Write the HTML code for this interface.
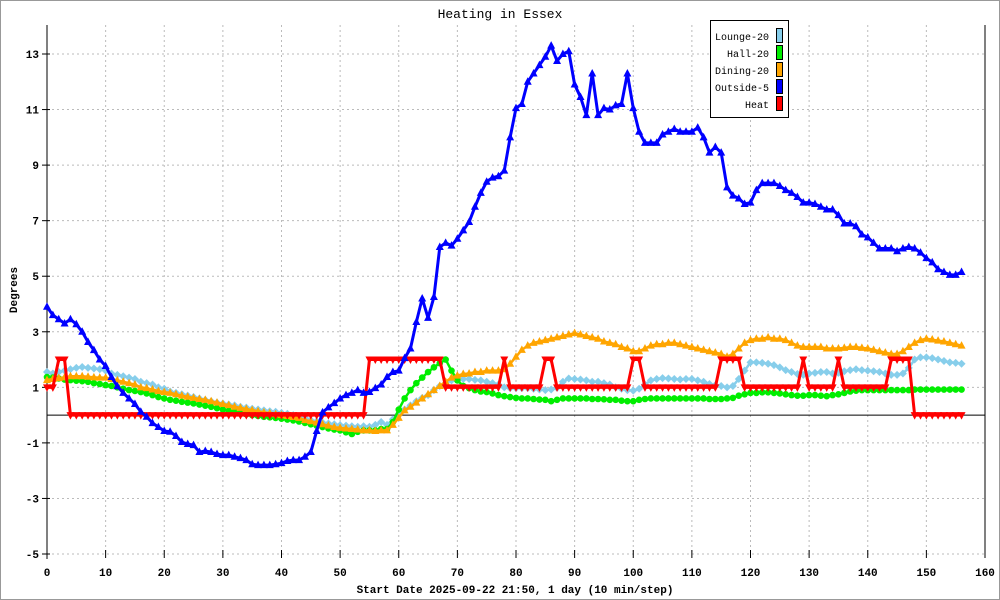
<!DOCTYPE html>
<html><head><meta charset="utf-8"><style>
body{margin:0;background:#fff}
svg{display:block;font-family:"Liberation Mono",monospace}
</style></head><body>
<svg id="chart" width="1000" height="600">
<rect x="0.5" y="0.5" width="999" height="599" fill="#fff" stroke="#999"/>
<text x="500" y="18" text-anchor="middle" font-size="13">Heating in Essex</text>
<g id="grid"></g>
<g id="axes"></g>
<g id="series"></g>
<text x="515" y="593" text-anchor="middle" font-size="11" font-weight="bold">Start Date 2025-09-22 21:50, 1 day (10 min/step)</text>
<text transform="translate(17,290) rotate(-90)" text-anchor="middle" font-size="11" font-weight="bold">Degrees</text>
<g id="legend"></g>
</svg>
<script>
const xTicks=[0,10,20,30,40,50,60,70,80,90,100,110,120,130,140,150,160];
const yTicks=[-5,-3,-1,1,3,5,7,9,11,13];
const seriesNames=["Lounge-20","Hall-20","Dining-20","Outside-5","Heat"];
const lounge=[1.55,1.5,1.55,1.6,1.65,1.7,1.73,1.7,1.68,1.65,1.6,1.5,1.45,1.4,1.35,1.3,1.2,1.15,1.1,1.0,0.95,0.85,0.8,0.75,0.7,0.65,0.6,0.55,0.5,0.45,0.42,0.38,0.35,0.3,0.27,0.23,0.2,0.17,0.14,0.12,0.08,0.05,0.0,-0.05,-0.1,-0.18,-0.22,-0.27,-0.3,-0.33,-0.36,-0.38,-0.4,-0.42,-0.4,-0.42,-0.35,-0.25,-0.35,-0.15,0.05,0.2,0.35,0.5,0.62,0.72,0.9,1.05,1.15,1.25,1.32,1.3,1.3,1.27,1.25,1.2,1.15,1.1,1.0,0.97,0.97,0.97,0.97,0.95,0.92,0.9,0.92,0.98,1.2,1.32,1.3,1.28,1.25,1.2,1.2,1.15,1.1,1.0,0.95,0.9,0.88,0.95,1.1,1.25,1.3,1.33,1.32,1.3,1.28,1.3,1.3,1.25,1.2,1.12,1.08,1.05,1.0,1.05,1.3,1.6,1.9,1.9,1.88,1.85,1.8,1.72,1.62,1.55,1.48,1.45,1.5,1.52,1.55,1.55,1.5,1.52,1.58,1.62,1.65,1.62,1.6,1.58,1.55,1.5,1.45,1.45,1.5,1.7,2.0,2.08,2.08,2.05,2.0,1.95,1.9,1.88,1.85];
const hall=[1.37,1.35,1.32,1.28,1.26,1.24,1.22,1.2,1.15,1.12,1.08,1.05,1.0,0.95,0.9,0.87,0.83,0.78,0.72,0.65,0.6,0.55,0.52,0.48,0.45,0.42,0.38,0.34,0.3,0.25,0.2,0.16,0.12,0.07,0.03,0.0,-0.03,-0.06,-0.08,-0.1,-0.13,-0.16,-0.19,-0.23,-0.28,-0.33,-0.38,-0.43,-0.48,-0.52,-0.55,-0.62,-0.68,-0.6,-0.55,-0.55,-0.55,-0.5,-0.5,-0.25,0.2,0.6,0.9,1.15,1.35,1.55,1.72,1.87,2.0,1.6,1.25,1.05,0.97,0.9,0.85,0.83,0.78,0.72,0.68,0.65,0.62,0.6,0.6,0.58,0.56,0.55,0.5,0.55,0.6,0.6,0.6,0.6,0.6,0.58,0.58,0.57,0.55,0.55,0.52,0.5,0.5,0.55,0.58,0.6,0.6,0.6,0.6,0.6,0.6,0.6,0.6,0.6,0.6,0.58,0.58,0.58,0.6,0.62,0.7,0.75,0.8,0.8,0.82,0.82,0.8,0.78,0.75,0.72,0.7,0.7,0.72,0.72,0.7,0.68,0.72,0.75,0.8,0.85,0.88,0.9,0.9,0.9,0.9,0.9,0.9,0.9,0.9,0.9,0.92,0.92,0.92,0.92,0.92,0.92,0.92,0.92,0.92];
const dining=[1.26,1.3,1.33,1.36,1.4,1.4,1.4,1.38,1.36,1.35,1.35,1.3,1.25,1.2,1.15,1.1,1.0,0.97,0.92,0.87,0.83,0.8,0.75,0.7,0.66,0.62,0.58,0.55,0.5,0.45,0.4,0.36,0.3,0.26,0.22,0.18,0.14,0.1,0.07,0.03,0.0,-0.03,-0.07,-0.1,-0.18,-0.22,-0.27,-0.33,-0.38,-0.43,-0.46,-0.48,-0.5,-0.52,-0.55,-0.55,-0.57,-0.55,-0.55,-0.35,-0.1,0.17,0.3,0.45,0.6,0.75,0.9,1.05,1.2,1.35,1.42,1.48,1.5,1.55,1.55,1.6,1.6,1.6,1.65,1.85,2.1,2.35,2.5,2.6,2.65,2.7,2.75,2.8,2.85,2.9,2.95,2.9,2.85,2.8,2.75,2.65,2.6,2.55,2.45,2.4,2.3,2.3,2.4,2.5,2.55,2.55,2.6,2.6,2.55,2.5,2.45,2.4,2.35,2.3,2.25,2.2,2.1,2.2,2.4,2.6,2.7,2.75,2.75,2.8,2.75,2.75,2.7,2.6,2.5,2.45,2.45,2.45,2.45,2.4,2.4,2.4,2.42,2.45,2.45,2.42,2.4,2.35,2.3,2.25,2.2,2.2,2.3,2.45,2.6,2.7,2.75,2.72,2.68,2.65,2.6,2.55,2.5];
const outside=[3.9,3.6,3.45,3.3,3.45,3.27,3.0,2.63,2.34,2.0,1.77,1.37,1.04,0.8,0.6,0.4,0.12,-0.06,-0.29,-0.43,-0.57,-0.6,-0.75,-0.97,-1.04,-1.08,-1.33,-1.29,-1.33,-1.4,-1.44,-1.44,-1.5,-1.55,-1.62,-1.77,-1.8,-1.8,-1.8,-1.77,-1.73,-1.65,-1.62,-1.62,-1.5,-1.33,-0.57,0.1,0.28,0.43,0.6,0.72,0.8,0.9,0.8,0.83,0.97,1.1,1.37,1.55,1.6,2.05,2.4,3.35,4.2,3.5,4.25,6.05,6.2,6.1,6.35,6.65,6.95,7.5,8.0,8.4,8.55,8.6,8.8,10.0,11.05,11.2,12.0,12.3,12.6,12.9,13.3,12.75,13.0,13.1,11.9,11.45,10.8,12.3,10.8,11.05,11.0,11.15,11.2,12.3,11.05,10.2,9.8,9.8,9.8,10.1,10.2,10.3,10.2,10.2,10.2,10.35,10.0,9.45,9.65,9.45,8.2,7.9,7.8,7.6,7.65,8.1,8.35,8.35,8.35,8.25,8.1,8.0,7.85,7.65,7.65,7.6,7.5,7.4,7.4,7.2,6.9,6.9,6.8,6.5,6.4,6.2,6.0,6.0,6.0,5.9,6.0,6.05,6.0,5.85,5.65,5.5,5.25,5.15,5.05,5.05,5.15];
const heat=[1,1,2,2,0,0,0,0,0,0,0,0,0,0,0,0,0,0,0,0,0,0,0,0,0,0,0,0,0,0,0,0,0,0,0,0,0,0,0,0,0,0,0,0,0,0,0,0,0,0,0,0,0,0,0,2,2,2,2,2,2,2,2,2,2,2,2,2,1,1,1,1,1,1,1,1,1,1,2,1,1,1,1,1,1,2,2,1,1,1,1,1,1,1,1,1,1,1,1,1,2,2,1,1,1,1,1,1,1,1,1,1,1,1,1,2,2,2,2,1,1,1,1,1,1,1,1,1,1,2,1,1,1,1,1,2,1,1,1,1,1,1,1,1,2,2,2,2,0,0,0,0,0,0,0,0,0];

const NS="http://www.w3.org/2000/svg";
const X0=47,X1=985,Y0=554,Y1=54;
const xs=v=>X0+(v-0)*(X1-X0)/160;
const ys=v=>Y0-(v+5)*(Y0-Y1)/18;
function el(tag,attrs,parent){const e=document.createElementNS(NS,tag);for(const k in attrs)e.setAttribute(k,attrs[k]);parent.appendChild(e);return e;}
const grid=document.getElementById('grid'),axes=document.getElementById('axes'),ser=document.getElementById('series'),leg=document.getElementById('legend');
xTicks.forEach(t=>{
  const x=xs(t);
  if(t>0&&t<160){const g=el('line',{x1:x,x2:x,y1:25,y2:Y0,stroke:'#bbb','stroke-dasharray':'2,3'},grid);
  
  }
  const tk=el('line',{x1:x,x2:x,y1:Y0-4,y2:Y0+4,stroke:'#000'},axes);
  
  
  const lb=el('text',{x:x,y:Y0+22,'text-anchor':'middle','font-size':11,'font-weight':'bold'},axes);
  lb.textContent=t;
  
  
});
yTicks.forEach(t=>{
  const y=ys(t);
  const g=el('line',{x1:X0,x2:X1,y1:y,y2:y,stroke:'#bbb','stroke-dasharray':'2,3'},grid);
  
  
  const tk=el('line',{x1:X0-5,x2:X0+3,y1:y,y2:y,stroke:'#000'},axes);
  
  
  const lb=el('text',{x:X0-8,y:y+4,'text-anchor':'end','font-size':11,'font-weight':'bold'},axes);
  lb.textContent=t;
  
  
});
el('line',{x1:X0,x2:X0,y1:25,y2:Y0+5,stroke:'#000'},axes);
el('line',{x1:X1,x2:X1,y1:25,y2:Y0,stroke:'#000'},axes);
const zl=el('line',{x1:X0,x2:X1,y1:ys(0),y2:ys(0),stroke:'#000'},axes);



function marker(kind,x,y,c,g){
  let m;
  if(kind==='circle')m=el('circle',{cx:x,cy:y,r:3.3,fill:c},g);
  else if(kind==='up')m=el('polygon',{points:`${x-4},${y+3} ${x+4},${y+3} ${x},${y-4.5}`,fill:c},g);
  else if(kind==='down')m=el('polygon',{points:`${x-4},${y-3} ${x+4},${y-3} ${x},${y+4.5}`,fill:c},g);
  else m=el('polygon',{points:`${x},${y-4} ${x+4},${y} ${x},${y+4} ${x-4},${y}`,fill:c},g);
  return m;
}
function drawSeries(vals,color,kind,w,name){
  const g=el('g',{},ser);
  
  
  const pts=vals.map((v,i)=>xs(i)+','+ys(v)).join(' ');
  el('polyline',{points:pts,fill:'none',stroke:color,'stroke-width':w,'stroke-linejoin':'round'},g);
  vals.forEach((v,i)=>{const m=marker(kind,xs(i),ys(v),color,g);
    
    });
}
drawSeries(lounge,'#87ceeb','diamond',2.5,'lounge-series');
drawSeries(hall,'#00ee00','circle',2.5,'hall-series');
drawSeries(dining,'#ffa500','up',2.5,'dining-series');
drawSeries(heat,'#ff0000','down',3,'heat-series');
drawSeries(outside,'#0000ff','up',3,'outside-series');

const colors=['#87ceeb','#00ee00','#ffa500','#0000ff','#ff0000'];
const lb=el('rect',{x:710.5,y:20.5,width:78,height:97,fill:'#fff',stroke:'#000'},leg);


seriesNames.forEach((n,i)=>{
  const y=36+i*17;
  const t=el('text',{x:769,y:y+4,'text-anchor':'end','font-size':10},leg);
  t.textContent=n;
  
  
  const s=el('rect',{x:776.5,y:y-7.5,width:6,height:14,fill:colors[i],stroke:'#000'},leg);
  
  
});
</script>
</body></html>
